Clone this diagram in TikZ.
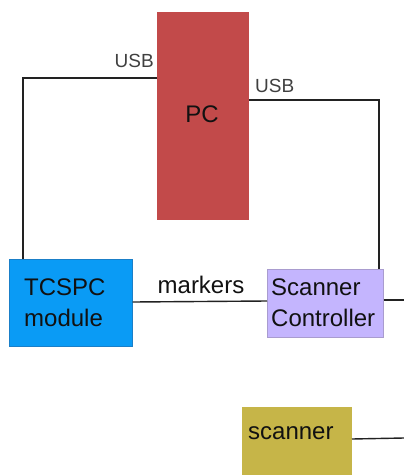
\documentclass[tikz,border=0pt]{standalone}
\usepackage{fontspec}
\setmainfont{Liberation Sans}
\definecolor{pcred}{HTML}{C24A4A}
\definecolor{tcblue}{HTML}{0A9BF5}
\definecolor{tcedge}{HTML}{1A7FC8}
\definecolor{sclav}{HTML}{C4B5FE}
\definecolor{scedge}{HTML}{A99CCF}
\definecolor{olive}{HTML}{C6B548}
\definecolor{wirecol}{HTML}{222222}
\definecolor{txtcol}{HTML}{111111}
\tikzset{
  box/.style={rectangle, inner sep=0pt, anchor=north west, align=left, text=txtcol,
    font=\fontsize{24}{31}\selectfont},
  wire/.style={draw=wirecol, line width=1.4pt},
  usbtxt/.style={inner sep=0pt, text=black!75, font=\fontsize{19}{22}\selectfont},
  lbl/.style={inner sep=0pt, text=txtcol, font=\fontsize{24}{31}\selectfont}
}
\begin{document}
\begin{tikzpicture}[x=1pt,y=-1pt]
\useasboundingbox (0,0) rectangle (404,475);
\clip (0,0) rectangle (404,475);
\node[box, fill=pcred, minimum width=92pt, minimum height=208pt] (pc) at (157,12) {};
\node[lbl, anchor=base] (pctxt) at (202,122) {PC};
\node[box, fill=tcblue, draw=tcedge, line width=0.6pt, minimum width=123pt, minimum height=87pt] (tcspc) at (9,259) {};
\node[lbl, anchor=base west, align=left] (tctxt) at (24,326) {TCSPC\\module};
\node[box, fill=sclav, draw=scedge, line width=0.6pt, minimum width=116pt, minimum height=68pt] (sc) at (267,269) {};
\node[lbl, anchor=base west, align=left] (sctxt) at (271,326) {Scanner\\Controller};
\node[box, fill=olive, minimum width=110pt, minimum height=80pt] (scanner) at (242,407) {};
\node[lbl, anchor=base west] (scannertxt) at (248,439) {scanner};
\coordinate (lcorner) at (23,78);
\coordinate (rcorner) at (379,100);
\coordinate (scout) at (404,300);
\coordinate (scanout) at (404,438);
\coordinate (scanin) at (352,439);
\draw[wire] (pc.west |- lcorner) -- (lcorner) -- (tcspc.north -| lcorner);
\draw[wire] (pc.east |- rcorner) -- (rcorner) -- (sc.north -| rcorner);
\draw[wire] (tcspc.east |- 0,302) -- (sc.west |- 0,301);
\draw[wire] (sc.east |- scout) -- (scout);
\draw[wire] (scanin) -- (scanout);
\node[lbl, anchor=base] (mk) at (201,293) {markers};
\node[usbtxt, anchor=base east] (usbl) at (154,67) {USB};
\node[usbtxt, anchor=base west] (usbr) at (255,92) {USB};
\end{tikzpicture}
\end{document}
